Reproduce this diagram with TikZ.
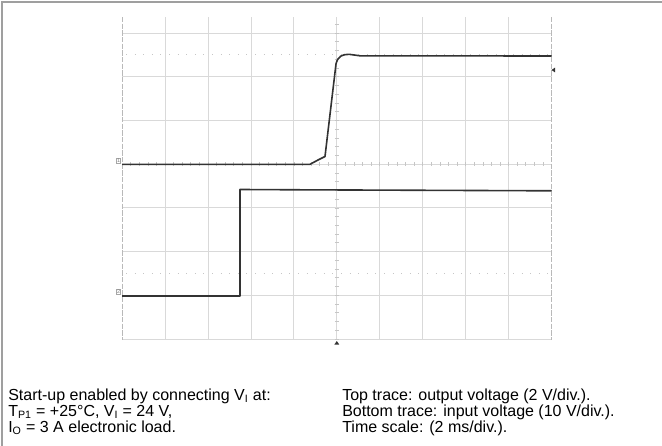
\documentclass[tikz,border=0pt]{standalone}
\usepackage{fontspec}
\setmainfont{Liberation Sans}
\usetikzlibrary{positioning}

\begin{document}
\begin{tikzpicture}[
    x=0.75pt, y=-0.75pt,
    gridline/.style={draw=gray!30, line width=0.5pt},
    border/.style={draw=gray!55, dash pattern=on 4pt off 1pt, line width=0.6pt},
    tick/.style={draw=gray!45, line width=0.4pt},
    levelmark/.style={draw=gray!45, line width=0.7pt, dash pattern=on 0.7pt off 5.75pt},
    trace/.style={draw=black!80, line width=1.2pt, line join=round},
    chmark/.style={draw=gray!70, fill=white, inner sep=0.3pt, font=\fontsize{4}{4}\selectfont, text=gray},
    note/.style={align=left, font=\fontsize{12}{12}\selectfont, inner sep=0pt, anchor=base west}
]

\useasboundingbox (0,0) rectangle (662,446);

% page frame
\draw[gray!75, line width=0.9pt] (2,446) -- (2,2) -- (662,2);

% scope grid
\foreach \i in {1,...,9}
  \draw[gridline] ({122+42.95*\i},17) -- ({122+42.95*\i},340);
\foreach \j in {0,...,6}
  \draw[gridline] (122,{33+43.7*\j}) -- (551.5,{33+43.7*\j});
\draw[gridline] (122,339.5) -- (551.5,339.5);
\draw[border] (122,17) -- (122,340);
\draw[border] (551.5,17) -- (551.5,340);

% minor ticks on the centre lines
\foreach \k in {-16,...,20}
  \draw[tick] (334.9,{164.1+8.74*\k}) -- (338.6,{164.1+8.74*\k});
\foreach \k in {1,...,49}
  \draw[tick] ({122+8.59*\k},162.3) -- ({122+8.59*\k},165.9);

% rise time level marks
\draw[levelmark] (126,54.9) -- (551.5,54.9);
\draw[levelmark] (126,273.4) -- (551.5,273.4);

% top trace: output voltage
\draw[trace] (122,164.3) -- (310,164.3) -- (318,160) -- (325,156.5) -- (336,64)
  .. controls (338,56) and (342,54.5) .. (349,54.3) -- (360,55.8) -- (551.5,56);

% bottom trace: input voltage
\draw[trace] (122,296) -- (240,296) -- (240,189.5) -- (300,189.8) -- (551.5,190.8);

% channel and trigger markers
\node[chmark] (ch1) at (118.5,161) {1};
\node[chmark] (ch2) at (118.5,292) {2};
\fill[black!80] (551.5,70) -- (555,67.6) -- (555,72.4) -- cycle;
\fill[black!80] (336.8,341) -- (334.4,344.5) -- (339.2,344.5) -- cycle;

% test conditions (base = last line)
\node[note] (setup) at (8,432) {Start-up enabled by connecting V\textsubscript{I} at:\\
  T\textsubscript{P1} = +25°C, V\textsubscript{I} = 24 V,\\
  I\textsubscript{O} = 3 A electronic load.};
\node[note] (legend) at (342,432) {Top trace: output voltage (2 V/div.).\\
  Bottom trace: input voltage (10 V/div.).\\
  Time scale: (2 ms/div.).};

\end{tikzpicture}
\end{document}
